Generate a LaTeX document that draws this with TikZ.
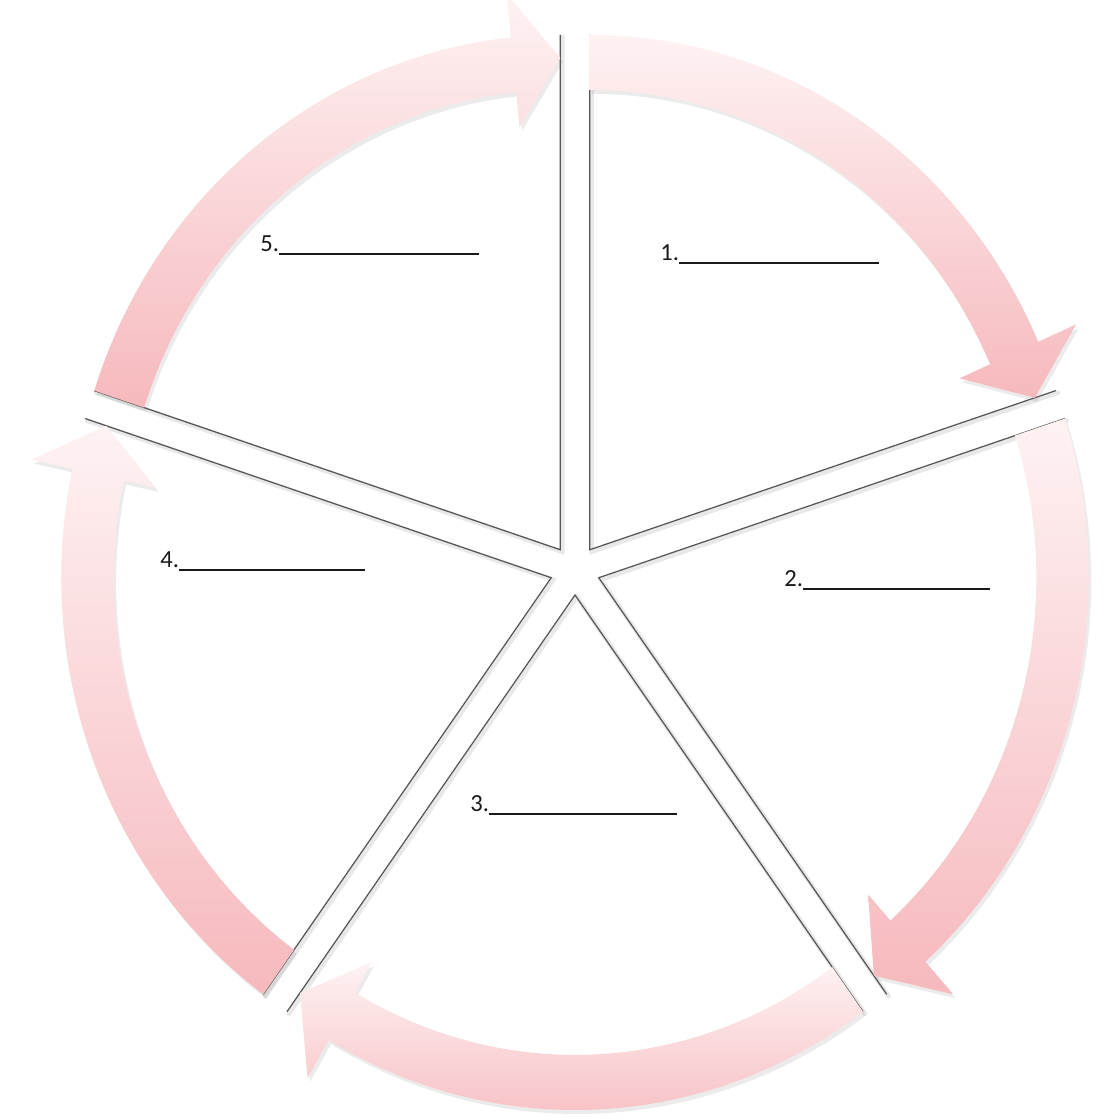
\documentclass[tikz,border=0pt]{standalone}
\usepackage{fontspec}
\setmainfont{Carlito}
\usetikzlibrary{shadows}
\definecolor{Blush}{HTML}{F6B9BD}
\definecolor{Petal}{HTML}{FEF2F3}
\definecolor{Edge}{HTML}{555555}
\tikzset{
 rim/.style={draw=Edge,line width=.7pt,line join=miter},
 rimshade/.style={draw=black!9,line width=2.6pt,line cap=round},
 band/.style={top color=Petal,bottom color=Blush,draw=none,drop shadow={opacity=.16,shadow xshift=.5mm,shadow yshift=-.8mm}},
 lbl/.style={anchor=base west,inner sep=0pt,font=\fontsize{14}{16}\selectfont,text=black!90}
}
\newcommand{\blankline}[1]{\rule[-1.8pt]{#1}{1pt}}

\begin{document}
\begin{tikzpicture}[x=.02cm,y=.02cm]
\useasboundingbox (0,0) rectangle (1117,1119);
\coordinate (hub) at (575,549);
% wedges: edges first, arrows on top
\foreach \n/\b in {1/54,2/-18,3/-90,4/-162,5/-234} {
 \pgfmathsetmacro\sa{\b+36}
 \pgfmathsetmacro\ea{\b-36}
 \pgfmathsetmacro\ha{\b-36+5.8}
 \begin{scope}[shift={(hub)},shift={(\b:25)},xscale=490,yscale=515]
  \draw[rimshade,shift={(.004,-.004)}] (\sa:1) -- (0,0) -- (\ea:1);
  \draw[rim] (\sa:1) -- (0,0) -- (\ea:1);
  \path[band] (\sa:1) arc[start angle=\sa,end angle=\ha,radius=1] -- (\ha:1.085) -- (\ea:.955)
   -- (\ha:.825) -- (\ha:.893) arc[start angle=\ha,end angle=\sa,radius=.893] -- cycle;
 \end{scope}
}
% labels
\foreach \n/\x/\y/\w in {1/660/261/4.0,2/784/587/3.74,3/470/812/3.76,4/160/568/3.72,5/260/252/4.0}
 \node[lbl] (tag\n) at (\x,{1119-\y}) {\n.\blankline{\w cm}};
\end{tikzpicture}
\end{document}
